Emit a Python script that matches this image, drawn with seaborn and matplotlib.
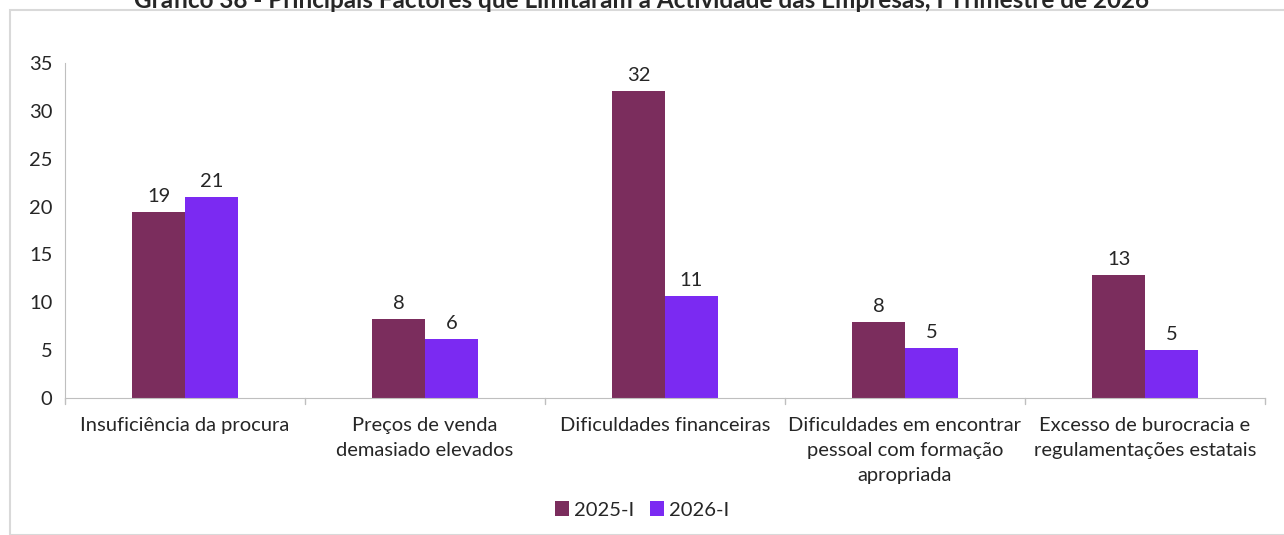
import numpy as np
import pandas as pd
import seaborn as sns
import matplotlib.pyplot as plt
from matplotlib.patches import Rectangle

categories = ["Insuficiência da procura",
              "Preços de venda\ndemasiado elevados",
              "Dificuldades financeiras",
              "Dificuldades em encontrar\npessoal com formação\napropriada",
              "Excesso de burocracia e\nregulamentações estatais"]
series = ["2025-I", "2026-I"]
vals_2025 = [19.4, 8.25, 32.1, 7.9, 12.85]
vals_2026 = [21.0, 6.2, 10.65, 5.25, 5.05]
colors = ["#7B2D5D", "#7B2AF2"]

df = pd.DataFrame({
    "cat": categories * 2,
    "serie": [series[0]] * 5 + [series[1]] * 5,
    "valor": vals_2025 + vals_2026,
})

sns.set_style("white")
plt.rcParams['font.family'] = ['Lato', 'DejaVu Sans']
fs = 14.5

fig = plt.figure(figsize=(12.84, 5.35), dpi=100)
ax = fig.add_axes([65 / 1284, 1 - 398 / 535, 1200 / 1284, 335 / 535])

sns.barplot(data=df, x="cat", y="valor", hue="serie", palette=colors,
            width=0.44, gap=0, ax=ax, legend=True, saturation=1,
            linewidth=0)

for cont in ax.containers:
    labels = [f"{v:.0f}" for v in cont.datavalues]
    ax.bar_label(cont, labels=labels, padding=5, fontsize=fs)

ax.set_ylim(0, 35)
ax.set_yticks(range(0, 36, 5))
ax.set_xlim(-0.5, 4.5)
ax.set_xlabel("")
ax.set_ylabel("")
ax.tick_params(axis='y', labelsize=fs, length=5, color="#BFBFBF", pad=4)
ax.tick_params(axis='x', labelsize=fs, length=0, pad=14)
for s in ["top", "right"]:
    ax.spines[s].set_visible(False)
for s in ["left", "bottom"]:
    ax.spines[s].set_color("#BFBFBF")
ax.set_xticks(range(5))
ax.set_xticklabels(categories, linespacing=1.55)
for xb in np.arange(-0.5, 4.6, 1):
    ax.plot([xb, xb], [0, -0.6], color="#BFBFBF", lw=1, clip_on=False)

handles, labs = ax.get_legend_handles_labels()
ax.get_legend().remove()
fig.legend(handles, labs, loc="center", bbox_to_anchor=(0.5, 1 - 510 / 535),
           ncol=2, frameon=False, fontsize=fs, handlelength=0.7,
           handleheight=0.7, handletextpad=0.25, columnspacing=0.8)

fig.patches.append(Rectangle((10 / 1284, 0), 1.0, 1 - 10 / 535,
                             transform=fig.transFigure, fill=False,
                             edgecolor="#D9D9D9", lw=1.5))
fig.text(0.5, 1 - 1 / 535, "Gráfico 38 - Principais Factores que Limitaram a Actividade das Empresas, I Trimestre de 2026",
         ha="center", va="center", fontsize=17.5, fontweight="bold")

fig.savefig("out.png", dpi=100)
